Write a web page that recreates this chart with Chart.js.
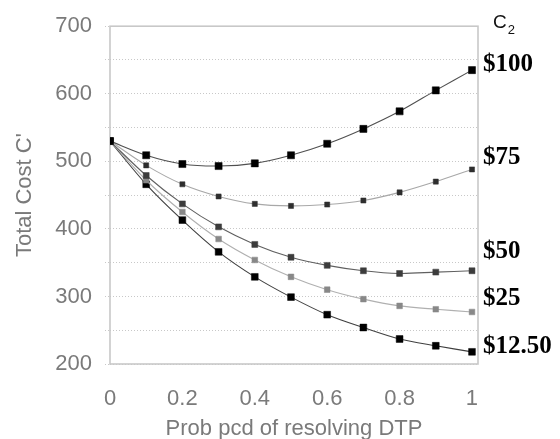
<!DOCTYPE html>
<html>
<head>
<meta charset="utf-8">
<script src="https://cdn.jsdelivr.net/npm/chart.js@4/dist/chart.umd.min.js"></script>
<style>
  html, body { margin: 0; padding: 0; background: #fff; }
  #wrap { width: 560px; height: 439px; position: relative; }
</style>
</head>
<body>
<div id="wrap"><canvas id="c"></canvas></div>
<script>
const xValues = [0, 0.1, 0.2, 0.3, 0.4, 0.5, 0.6, 0.7, 0.8, 0.9, 1];
const cost100 = [530, 509, 496, 493, 497, 509, 526, 548, 574, 605, 635];
const cost75  = [530, 494, 466, 448, 437, 434, 436, 442, 454, 470, 488];
const cost50  = [530, 479, 437, 403, 377, 358, 346, 338, 334, 336, 338];
const cost25  = [530, 472, 425, 385, 354, 329, 310, 296, 286, 281, 277];
const cost1250 = [530, 466, 413, 366, 329, 299, 273, 254, 237, 227, 218];
const seriesLabels = ['$100', '$75', '$50', '$25', '$12.50'];
const labelAnchors = [643, 505, 367, 297, 226];
const xTicks = [0, 0.2, 0.4, 0.6, 0.8, 1];
const yTickLabels = [200, 300, 400, 500, 600, 700];
const legendTitle = 'C';
const legendSub = '2';

const toPts = arr => xValues.map((x, i) => ({ x: x, y: arr[i] }));

const styles = [
  { line: '#505050', pt: '#000000', r: 5 },
  { line: '#a8a8a8', pt: '#2e2e2e', r: 3.6 },
  { line: '#606060', pt: '#3c3c3c', r: 4.2 },
  { line: '#b0b0b0', pt: '#888888', r: 4.0 },
  { line: '#404040', pt: '#000000', r: 4.8 }
];
const allSeries = [cost100, cost75, cost50, cost25, cost1250];

const datasets = allSeries.map((arr, i) => ({
  label: seriesLabels[i],
  data: toPts(arr),
  showLine: true,
  borderColor: styles[i].line,
  borderWidth: 1.1,
  tension: 0.3,
  pointStyle: 'rect',
  pointRadius: styles[i].r,
  pointBackgroundColor: styles[i].pt,
  pointBorderColor: styles[i].pt,
  pointBorderWidth: 0.5
}));

const framePlugin = {
  id: 'frame',
  beforeDatasetsDraw(chart) {
    const { ctx, chartArea: a } = chart;
    ctx.save();
    ctx.strokeStyle = '#c8c8c8';
    ctx.lineWidth = 1.6;
    ctx.strokeRect(a.left, a.top, a.right - a.left, a.bottom - a.top);
    ctx.restore();
  }
};

const labelPlugin = {
  id: 'rightLabels',
  afterDraw(chart) {
    const { ctx, chartArea: a } = chart;
    const ys = chart.scales.y;
    ctx.save();
    ctx.fillStyle = '#000';
    ctx.font = 'bold 25px "Liberation Serif", "Times New Roman", serif';
    ctx.textAlign = 'left';
    ctx.textBaseline = 'middle';
    seriesLabels.forEach((t, i) => {
      ctx.fillText(t, a.right + 5, ys.getPixelForValue(labelAnchors[i]));
    });
    ctx.fillStyle = '#111';
    ctx.font = '19px "Liberation Sans", Arial, sans-serif';
    const cy = a.top - 3;
    ctx.fillText(legendTitle, a.right + 15, cy);
    const w = ctx.measureText(legendTitle).width;
    ctx.font = '13px "Liberation Sans", Arial, sans-serif';
    ctx.fillText(legendSub, a.right + 15 + w + 1, cy + 7);
    ctx.restore();
  }
};

const tickFont = { family: '"Liberation Sans", Arial, sans-serif', size: 22 };

new Chart(document.getElementById('c'), {
  type: 'scatter',
  data: { datasets },
  plugins: [framePlugin, labelPlugin],
  options: {
    responsive: true,
    maintainAspectRatio: false,
    animation: false,
    layout: { padding: { left: 0, right: 82, top: 20, bottom: 0 } },
    plugins: { legend: { display: false }, tooltip: { enabled: false } },
    scales: {
      x: {
        type: 'linear',
        min: 0,
        max: 1.0166,
        afterBuildTicks(axis) { axis.ticks = xTicks.map(v => ({ value: v })); },
        afterFit(axis) { axis.height = 75; },
        grid: { display: false },
        border: { display: false },
        ticks: {
          color: '#7a7a7a',
          font: tickFont,
          padding: 14,
          maxRotation: 0,
          includeBounds: false,
          callback: v => String(v)
        },
        title: {
          display: true,
          text: 'Prob pcd of resolving DTP',
          color: '#7a7a7a',
          font: tickFont,
          padding: { top: 0, bottom: -3 }
        }
      },
      y: {
        type: 'linear',
        min: 200,
        max: 700,
        afterFit(axis) { axis.width = 110; },
        grid: {
          color: '#c8c8c8',
          lineWidth: 1,
          drawTicks: true,
          tickLength: 5,
          tickColor: '#c8c8c8',
          tickBorderDash: [1, 2]
        },
        border: { display: false, dash: [1, 2] },
        ticks: {
          stepSize: 50,
          color: '#7a7a7a',
          font: tickFont,
          padding: 13,
          callback: v => (yTickLabels.includes(v) ? String(v) : '')
        },
        title: {
          display: true,
          text: "Total Cost C'",
          color: '#7a7a7a',
          font: tickFont,
          padding: { top: 12, bottom: 0 }
        }
      }
    }
  }
});
</script>
</body>
</html>
